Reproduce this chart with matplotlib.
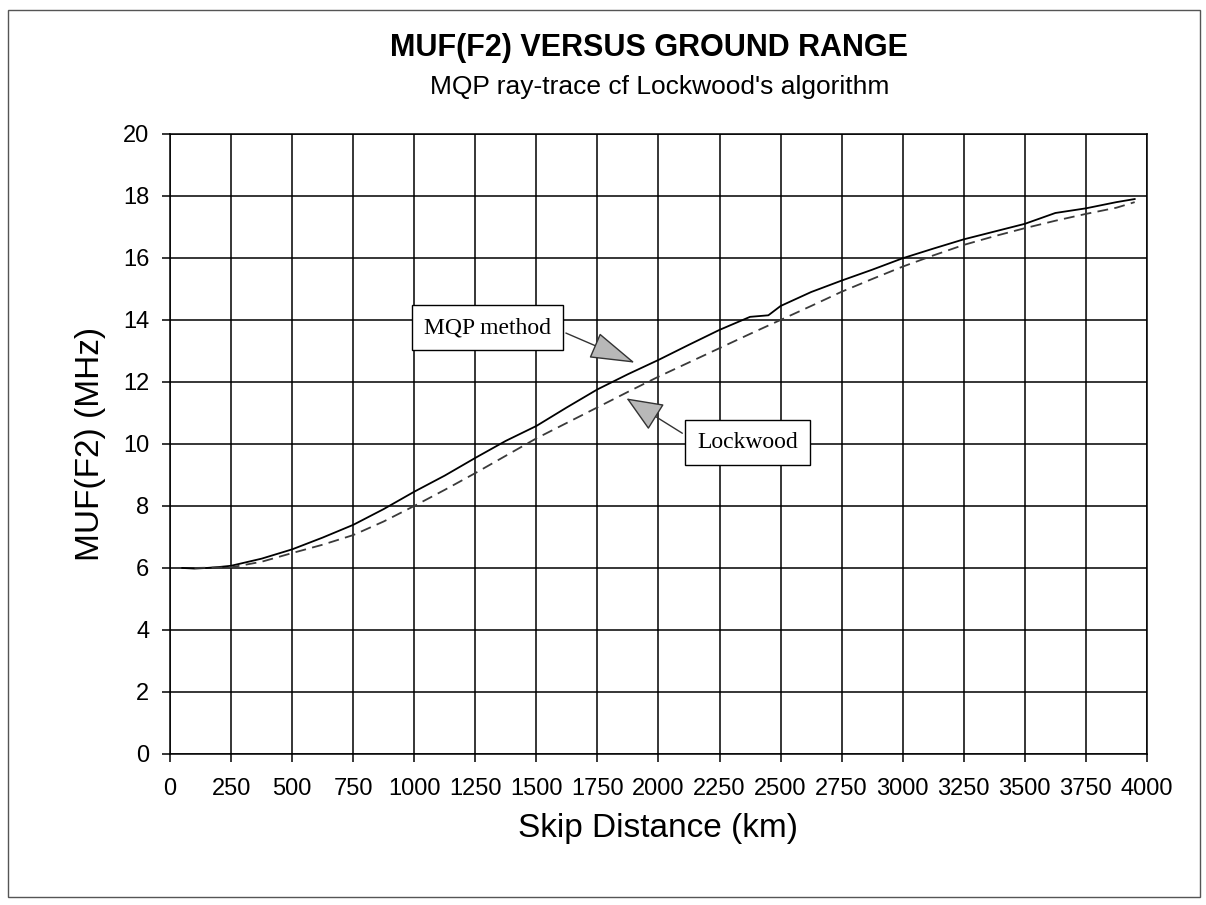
import matplotlib
matplotlib.use('Agg')
import matplotlib.pyplot as plt
from matplotlib.patches import Rectangle

plt.rcParams['font.family'] = ['Liberation Sans', 'DejaVu Sans']

# skip distance (km) and MUF(F2) (MHz) for the two methods
mqp_km = [50, 100, 150, 200, 250, 375, 500, 625, 750, 875, 1000, 1125, 1250, 1375,
          1500, 1625, 1750, 1875, 2000, 2125, 2250, 2375, 2450, 2500, 2625, 2750,
          2875, 3000, 3125, 3250, 3375, 3500, 3625, 3750, 3875, 3950]
mqp_muf = [6.0, 5.98, 6.0, 6.03, 6.07, 6.3, 6.6, 6.98, 7.39, 7.9, 8.46, 8.98, 9.55, 10.1,
           10.58, 11.18, 11.76, 12.25, 12.71, 13.2, 13.68, 14.1, 14.15, 14.45, 14.9, 15.27,
           15.62, 15.99, 16.3, 16.6, 16.85, 17.1, 17.45, 17.6, 17.8, 17.9]

lock_km = [100, 250, 375, 500, 625, 750, 875, 1000, 1125, 1250, 1375, 1500, 1625, 1750,
           1875, 2000, 2125, 2250, 2375, 2500, 2625, 2750, 2875, 3000, 3125, 3250, 3375,
           3500, 3625, 3750, 3875, 3950]
lock_muf = [6.0, 6.02, 6.2, 6.48, 6.75, 7.06, 7.5, 8.0, 8.52, 9.06, 9.62, 10.18, 10.68, 11.18,
            11.68, 12.17, 12.63, 13.09, 13.55, 14.0, 14.45, 14.91, 15.32, 15.72, 16.08, 16.42,
            16.7, 16.96, 17.2, 17.42, 17.62, 17.8]

x_ticks = list(range(0, 4001, 250))
y_ticks = list(range(0, 21, 2))

fig = plt.figure(figsize=(12.06, 9.05), dpi=100)
ax = fig.add_axes([0.141, 0.1669, 0.81, 0.6851])

ax.plot(mqp_km, mqp_muf, color='black', lw=1.3, label='MQP method')
ax.plot(lock_km, lock_muf, color='#3a3a3a', lw=1.3, linestyle=(0, (6, 3.5)), label='Lockwood')

ax.set_xlim(0, 4000)
ax.set_ylim(0, 20)
ax.set_xticks(x_ticks)
ax.set_yticks(y_ticks)
ax.grid(True, color='black', lw=1.1)
ax.set_axisbelow(True)
for s in ax.spines.values():
    s.set_color('black')
    s.set_linewidth(1.1)
ax.tick_params(axis='both', direction='out', length=6, width=1.1, colors='black', labelsize=17)
ax.tick_params(axis='y', pad=9)
ax.tick_params(axis='x', pad=11)

ax.set_xlabel('Skip Distance (km)', fontsize=24, labelpad=10)
ax.set_ylabel('MUF(F2) (MHz)', fontsize=24, labelpad=12)

fig.text(0.538, 0.947, 'MUF(F2) VERSUS GROUND RANGE', ha='center', va='center',
         fontsize=22, fontweight='bold')
fig.text(0.547, 0.904, "MQP ray-trace cf Lockwood's algorithm", ha='center', va='center',
         fontsize=19)

# callout labels
box = dict(boxstyle='square,pad=0.5', fc='white', ec='black', lw=1)
ax.annotate('MQP method', xy=(1903, 12.62), xytext=(1300, 13.75),
            fontsize=17, family=['Liberation Serif', 'DejaVu Serif'],
            ha='center', va='center', bbox=box,
            arrowprops=dict(arrowstyle='-|>,head_length=1.46,head_width=0.44',
                            mutation_scale=20, fc='#b8b8b8', ec='#333333', lw=1,
                            relpos=(1.0, 0.55), shrinkB=0))
ax.annotate('Lockwood', xy=(1869, 11.47), xytext=(2364, 10.05),
            fontsize=17, family=['Liberation Serif', 'DejaVu Serif'],
            ha='center', va='center', bbox=box,
            arrowprops=dict(arrowstyle='-|>,head_length=1.17,head_width=0.49',
                            mutation_scale=20, fc='#b8b8b8', ec='#333333', lw=1,
                            relpos=(0.0, 0.5), shrinkB=0))

# outer frame of the chart
fig.patches.append(Rectangle((0.0066, 0.0088), 0.9884, 0.9802, transform=fig.transFigure,
                             fill=False, ec='#555555', lw=1))

fig.savefig('out.png', dpi=100)
